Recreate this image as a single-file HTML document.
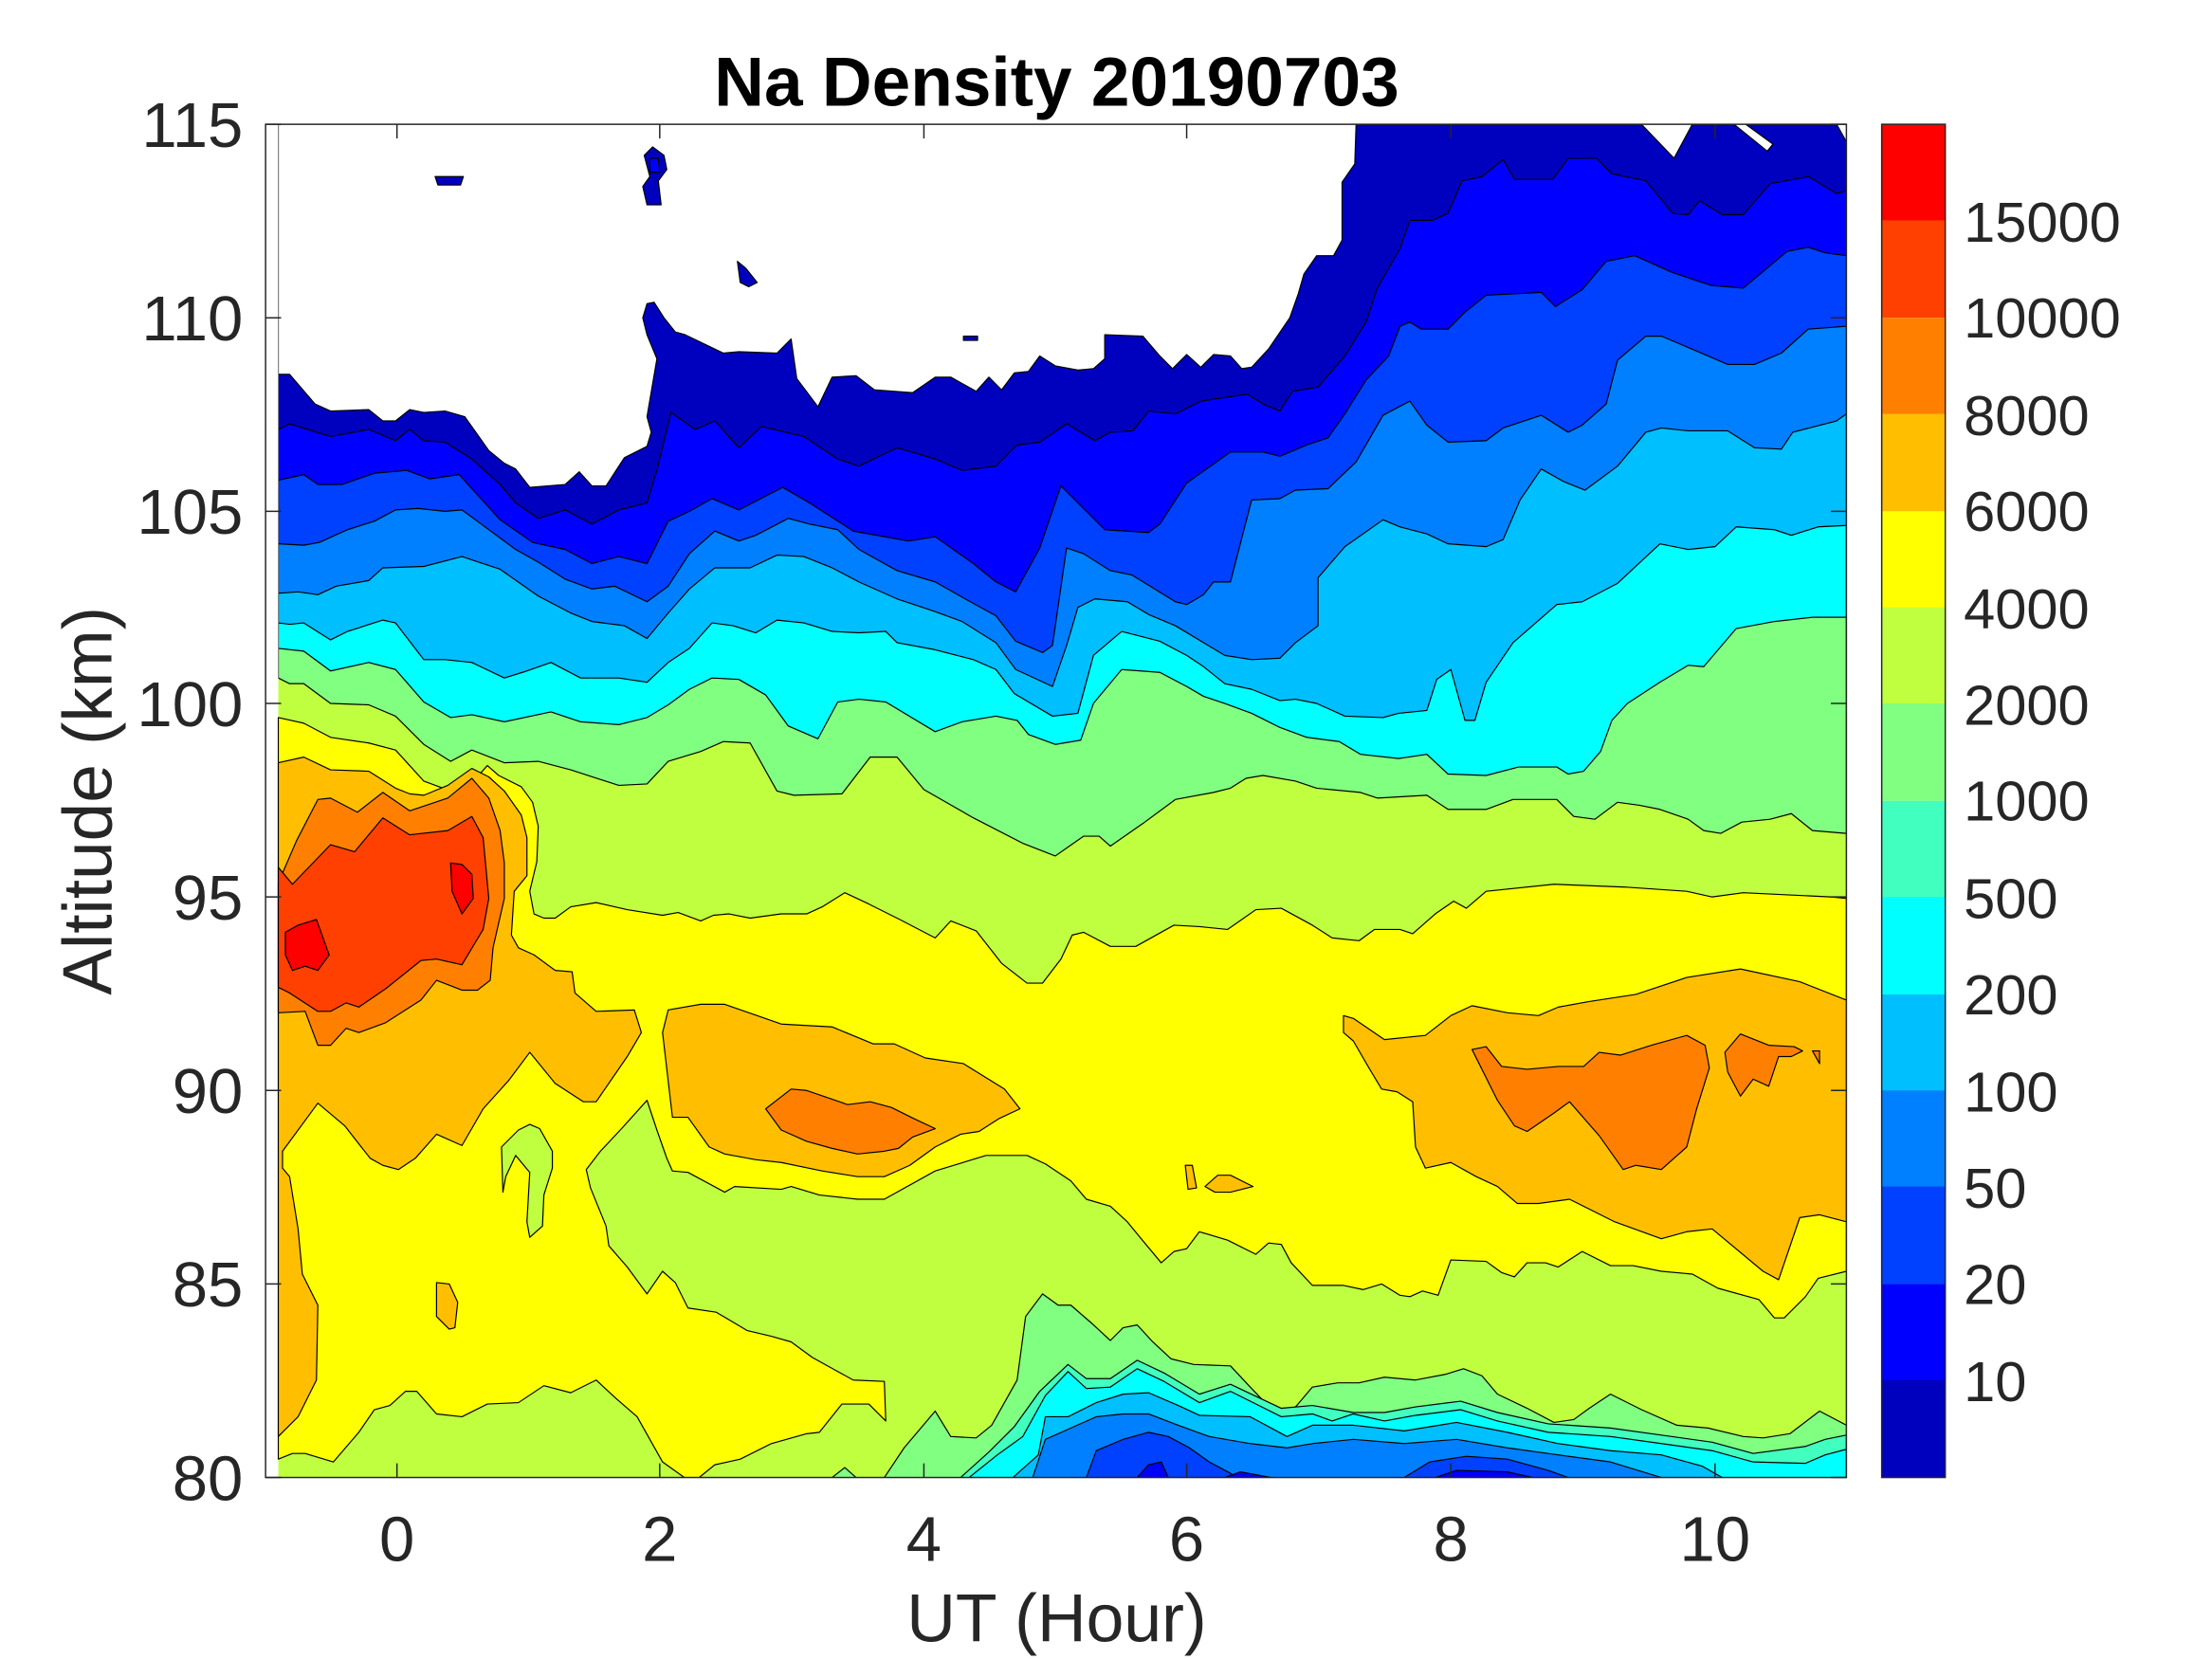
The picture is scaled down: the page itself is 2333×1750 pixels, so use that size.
<!DOCTYPE html>
<html><head><meta charset="utf-8"><style>
html,body{margin:0;padding:0;background:#fff;}
svg{display:block;}
text{font-family:"Liberation Sans",Arial,sans-serif;fill:#262626;}
</style></head><body>
<svg width="2333" height="1750" viewBox="0 0 1565.8 1174.5" preserveAspectRatio="none" xmlns="http://www.w3.org/2000/svg">
<defs><clipPath id="c"><rect x="188" y="88" width="1119" height="958"/></clipPath></defs>
<g clip-path="url(#c)" stroke="#000" stroke-width="0.8" stroke-linejoin="round">
<rect x="188" y="88" width="1119" height="958" fill="#BFFF40" stroke="none"/>
<!-- upper bands -->
<polygon fill="#80FF80" points="197,88 197,480 205,484 215,484 234,498 261,499 280,507 300,527 319,539 334,531 357,540 381,539 404,545 438,556 458,555 473,539 496,532 512,525 531,526 550,560 562,563 596,562 616,536 635,536 654,559 689,579 724,597 747,606 767,592 778,592 786,599 809,583 832,566 859,561 871,558 882,551 894,549 917,553 932,558 963,561 975,565 1010,563 1025,573 1052,573 1071,566 1102,566 1114,578 1129,580 1145,568 1160,570 1175,573 1195,580 1206,588 1218,590 1233,582 1253,580 1268,576 1283,588 1307,590 1307,88"/>
<polygon fill="#00FFFF" points="197,88 197,459 215,461 234,475 261,469 280,474 300,497 319,508 334,506 357,511 390,504 411,511 438,513 458,508 473,499 488,488 504,480 523,481 542,492 558,514 579,523 593,497 608,495 627,497 662,518 681,511 705,507 720,510 728,520 747,527 765,524 774,498 794,474 821,476 840,486 852,493 867,498 886,505 906,515 925,522 948,525 963,534 990,537 1010,534 1025,548 1052,549 1075,543 1102,543 1110,548 1121,546 1133,532 1141,510 1152,498 1175,483 1195,471 1206,472 1229,445 1256,440 1283,437 1307,437 1307,88"/>
<polygon fill="#00BFFF" points="197,88 197,441 205,442 215,441 234,453 246,447 271,439 280,441 300,467 315,467 334,469 357,480 373,475 390,469 411,480 438,480 458,483 473,469 488,459 504,441 519,443 535,448 550,439 569,441 589,447 608,448 627,447 635,455 662,460 689,467 705,474 718,491 745,507 763,505 774,464 794,447 821,454 840,464 852,472 867,484 886,488 906,496 917,495 932,498 952,507 979,508 990,505 1010,503 1017,481 1027,474 1037,510 1044,510 1052,483 1071,455 1102,428 1120,426 1145,413 1175,385 1195,389 1214,387 1229,373 1256,375 1268,379 1287,373 1307,372 1307,88"/>
<polygon fill="#0080FF" points="197,88 197,420 211,419 225,421 238,415 261,411 271,402 300,401 327,394 354,403 381,422 404,434 419,440 442,443 458,452 473,434 488,417 506,402 531,402 550,393 569,394 589,402 608,412 635,424 662,433 681,440 705,455 719,474 745,486 755,457 763,430 775,424 798,426 813,435 832,443 852,455 867,464 886,467 906,466 917,455 933,443 933,409 952,387 979,368 991,373 1010,378 1025,385 1052,387 1064,382 1076,354 1091,332 1107,341 1122,347 1145,330 1165,306 1176,303 1195,305 1223,305 1242,317 1261,318 1269,306 1300,298 1307,293 1307,88"/>
<polygon fill="#0040FF" points="197,88 197,385 215,386 226,384 246,375 265,369 280,361 296,360 315,362 327,361 346,375 365,389 381,398 400,410 419,417 435,415 458,426 473,415 488,392 506,376 523,383 535,379 558,367 573,371 593,375 608,389 635,404 662,412 685,425 705,436 719,454 738,462 745,457 755,388 767,392 786,404 801,407 832,426 840,428 852,421 859,412 871,412 886,354 906,353 917,347 940,346 960,327 979,294 998,284 1010,301 1025,313 1052,312 1064,303 1091,294 1110,306 1120,301 1137,286 1145,255 1165,238 1176,238 1195,246 1223,258 1242,258 1261,250 1280,233 1307,231 1307,88"/>
<polygon fill="#0000FF" points="197,88 197,340 215,336 225,343 242,343 265,335 288,333 304,339 325,336 354,368 377,384 400,389 419,399 438,394 458,399 473,369 488,362 504,353 523,361 554,345 573,356 604,376 643,383 662,380 689,399 705,412 719,419 736,388 751,344 782,375 813,377 821,371 840,342 871,320 894,320 906,323 925,315 940,310 952,293 967,269 983,252 991,231 998,228 1006,233 1025,233 1037,221 1052,209 1091,207 1101,217 1120,205 1137,185 1157,181 1184,193 1211,202 1234,204 1265,178 1280,175 1292,179 1307,181 1307,88"/>
<polygon fill="#0000BF" points="197,88 197,304 205,300 234,309 261,304 280,312 290,304 300,312 315,313 334,325 354,343 365,356 381,367 400,361 419,371 438,361 458,356 465,333 475,292 492,304 506,298 523,317 539,302 569,309 593,325 608,330 635,317 662,325 681,333 705,330 720,315 736,313 755,300 775,312 786,306 802,305 813,291 832,293 850,284 883,279 894,286 906,291 915,277 933,274 952,252 967,228 975,204 991,176 998,156 1014,156 1025,151 1035,128 1049,125 1064,113 1072,127 1099,127 1110,112 1130,112 1141,123 1165,128 1184,151 1195,152 1203,142 1219,152 1234,152 1253,130 1280,125 1300,137 1307,135 1307,88"/>
<!-- white (no data) -->
<polygon fill="#fff" points="197,86 197,265 205,265 223,286 234,291 261,290 271,298 280,298 290,290 300,292 315,291 329,295 346,319 357,328 365,332 375,345 400,343 410,334 419,344 429,344 442,324 458,316 461,306 458,295 465,254 458,237 455,225 458,215 463,214 470,225 478,235 485,237 512,250 523,249 550,250 560,240 564,268 579,288 589,267 606,266 619,276 646,278 662,267 673,267 691,277 700,267 709,276 718,264 728,263 736,252 747,259 763,262 774,261 782,254 782,237 809,238 821,252 830,261 840,251 850,260 859,251 871,252 879,261 886,260 898,247 913,225 919,208 923,194 932,181 944,181 950,170 950,129 959,116 960,86"/>
<polygon fill="#fff" points="1160,86 1185,112 1199,86"/>
<polygon fill="#fff" points="1225,86 1251,107 1255,102 1233,86"/>
<polygon fill="#fff" points="1299,86 1309,104 1309,86"/>
<rect x="186" y="86" width="11" height="962" fill="#fff" stroke="none"/>
<polygon fill="#0000BF" points="456,110 462,104 470,110 472,120 466,128 468,145 458,145 455,132 460,125"/>
<polygon fill="#0000FF" points="460,112 466,112 467,122 460,122"/>
<polygon fill="#0000BF" points="308,125 328,125 326,131 310,131"/>
<polygon fill="#0000BF" points="522,185 528,190 536,200 530,203 524,200"/>
<polygon fill="#0000BF" points="682,238 692,238 692,241 682,241"/>
<!-- yellow -->
<polygon fill="#FFFF00" points="197,508 215,512 234,522 261,526 280,531 290,542 300,553 319,560 336,552 345,542 353,549 369,557 377,568 381,585 380,610 375,631 378,647 385,650 393,650 404,642 422,639 444,644 469,648 480,646 496,652 505,648 516,647 531,650 553,647 571,647 582,642 598,632 615,640 637,651 662,664 673,652 691,659 709,682 727,696 738,696 751,679 759,662 767,660 786,670 804,670 831,655 849,656 869,658 889,644 907,643 929,655 943,664 962,666 973,658 991,658 1000,661 1016,647 1029,638 1038,643 1052,631 1100,626 1150,628 1194,631 1212,635 1234,632 1296,635 1307,636 1307,900 1287,905 1278,918 1263,933 1256,933 1245,920 1216,912 1198,902 1176,900 1156,896 1140,896 1120,886 1103,897 1094,894 1081,894 1072,904 1063,901 1052,893 1027,892 1018,917 1007,914 998,918 991,917 978,909 965,913 951,910 929,910 914,894 907,881 898,880 889,888 869,878 849,872 840,884 831,886 822,894 807,876 798,865 786,854 769,849 758,836 740,824 727,818 698,818 662,829 626,849 607,849 580,846 560,840 553,842 520,840 513,844 487,830 476,829 472,820 465,800 458,779 440,799 425,815 415,828 418,841 429,868 431,882 444,897 458,916 469,900 478,908 487,926 507,929 529,942 546,946 560,950 575,961 593,971 604,977 626,978 627,1006 615,994 596,994 580,1014 571,1015 546,1022 524,1033 506,1037 490,1050 469,1035 451,1003 436,990 422,977 404,986 385,981 367,993 345,994 327,1003 309,1001 295,985 287,985 276,995 265,998 254,1014 236,1035 216,1029 207,1029 197,1033"/>
<polygon fill="#BFFF40" points="355,812 367,800 375,796 382,799 391,815 391,827 385,846 384,868 375,876 373,865 375,830 365,818 358,833 356,844"/>
<!-- oranges -->
<polygon fill="#FFBF00" points="197,540 215,536 234,545 261,546 280,558 290,562 300,563 317,556 334,544 346,550 357,560 369,577 373,593 373,620 364,631 362,662 367,671 378,676 393,687 405,688 407,703 422,716 449,715 454,731 444,748 422,780 413,780 393,767 375,745 360,765 342,785 327,811 309,803 294,820 282,828 271,825 262,820 244,797 225,781 200,815 200,827 205,833 211,870 214,902 225,924 224,977 211,1003 197,1017"/>
<polygon fill="#FFBF00" points="309,908 318,909 324,922 322,940 318,941 309,932"/>
<polygon fill="#FFBF00" points="473,715 496,711 513,711 553,725 589,727 618,739 633,739 655,749 682,753 711,771 722,785 707,792 693,801 680,803 662,812 644,825 626,833 607,833 582,829 553,823 535,821 513,817 502,812 487,791 476,791 469,731"/>
<polygon fill="#FFBF00" points="951,719 958,721 980,736 1009,733 1027,719 1042,712 1067,717 1089,719 1103,713 1125,709 1158,704 1194,692 1232,686 1274,695 1307,708 1307,865 1288,860 1274,862 1259,906 1248,900 1212,870 1194,872 1176,877 1143,865 1111,849 1089,852 1074,852 1060,840 1045,833 1027,823 1009,827 1002,812 1000,780 989,773 978,771 969,756 958,737 951,731"/>
<polygon fill="#FFBF00" points="839,825 844,825 847,841 841,842"/>
<polygon fill="#FFBF00" points="853,840 862,832 871,832 887,840 871,844 860,844"/>
<polygon fill="#FF8000" points="197,625 210,595 225,566 234,565 253,575 271,561 290,574 317,565 334,551 346,565 354,588 357,611 357,636 349,671 347,694 338,701 327,701 309,694 298,708 273,724 254,731 245,728 234,740 225,740 216,716 197,717"/>
<polygon fill="#FF8000" points="542,785 560,771 571,772 600,782 616,780 631,784 647,792 662,799 646,805 636,813 626,815 607,817 589,813 571,808 553,800"/>
<polygon fill="#FF8000" points="1042,743 1052,741 1063,755 1081,757 1103,755 1121,755 1132,745 1147,747 1169,740 1194,733 1207,740 1210,756 1201,785 1194,812 1176,828 1158,825 1149,828 1132,804 1111,780 1100,788 1081,801 1072,797 1060,779 1049,757"/>
<polygon fill="#FF8000" points="1221,745 1232,732 1252,740 1270,741 1276,744 1268,748 1259,748 1252,769 1241,764 1232,776 1223,759"/>
<polygon fill="#FF8000" points="1283,744 1288,744 1288,753"/>
<polygon fill="#FF4000" points="197,614 207,626 234,598 251,603 271,579 290,591 317,588 334,578 342,593 346,636 342,658 327,683 309,679 298,680 273,700 254,713 245,710 234,716 225,716 205,703 197,699"/>
<polygon fill="#FF0000" points="202,660 211,655 224,651 233,676 225,687 216,684 207,687 202,676"/>
<polygon fill="#FF0000" points="319,611 327,612 334,619 335,636 327,647 320,631"/>
<!-- lower blues -->
<polygon fill="#80FF80" points="589,1046 598,1039 606,1046"/>
<polygon fill="#80FF80" points="626,1046 640,1025 662,999 673,1017 691,1018 702,1009 720,977 726,932 738,916 749,924 758,924 773,937 786,949 795,940 805,938 816,950 829,962 845,966 871,967 885,982 907,1005 918,995 929,982 947,979 962,979 980,975 1002,977 1023,973 1036,969 1049,974 1060,987 1081,997 1100,1007 1114,1005 1125,997 1140,987 1162,998 1187,1009 1209,1011 1234,1017 1248,1018 1267,1015 1288,999 1307,1009 1307,1046"/>
<polygon fill="#40FFBF" points="680,1046 700,1028 718,1010 736,985 756,966 769,976 786,976 805,963 824,972 849,987 871,980 907,997 929,995 958,1000 980,1000 1002,996 1034,992 1060,1000 1096,1008 1140,1011 1176,1016 1212,1021 1241,1029 1278,1024 1292,1019 1307,1016 1307,1046"/>
<polygon fill="#00FFFF" points="686,1046 706,1030 724,1017 740,988 756,971 769,983 786,982 805,969 824,978 849,993 871,985 907,1003 929,1001 943,1006 958,1001 980,1006 1002,1002 1034,998 1060,1006 1096,1014 1140,1017 1176,1022 1212,1027 1241,1035 1278,1036 1292,1030 1307,1026 1307,1046"/>
<polygon fill="#00BFFF" points="717,1046 735,1030 740,1003 756,1003 776,993 795,987 813,986 834,995 849,1002 885,1003 911,1017 929,1009 958,1009 994,1013 1031,1007 1067,1014 1103,1022 1140,1027 1176,1030 1205,1038 1219,1046"/>
<polygon fill="#0080FF" points="731,1046 740,1019 758,1011 776,1003 795,1001 813,1001 834,1009 856,1017 885,1022 911,1025 929,1022 958,1019 994,1022 1031,1019 1067,1025 1103,1030 1140,1035 1176,1046"/>
<polygon fill="#0040FF" points="769,1046 776,1027 795,1019 813,1014 827,1017 842,1025 856,1035 871,1043 875,1046"/>
<polygon fill="#0040FF" points="994,1046 1012,1035 1038,1031 1067,1033 1096,1041 1110,1046"/>
<polygon fill="#0000FF" points="805,1046 813,1037 822,1035 827,1046"/>
<polygon fill="#0000FF" points="867,1046 878,1042 900,1046"/>
<polygon fill="#0000FF" points="1016,1046 1031,1041 1067,1042 1085,1046"/>
</g>
<!-- axes -->
<g stroke="#262626" stroke-width="1" fill="none">
<rect x="188" y="88" width="1119" height="958"/>
<path d="M281,1046v-10M467,1046v-10M654,1046v-10M840,1046v-10M1027,1046v-10M1214,1046v-10M281,88v10M467,88v10M654,88v10M840,88v10M1027,88v10M1214,88v10
M188,88h11M188,225h11M188,362h11M188,498h11M188,635h11M188,772h11M188,909h11M188,1046h11
M1307,88h-11M1307,225h-11M1307,362h-11M1307,498h-11M1307,635h-11M1307,772h-11M1307,909h-11M1307,1046h-11"/>
</g>
<g font-size="45" text-anchor="end">
<text x="172" y="104">115</text><text x="172" y="241">110</text><text x="172" y="378">105</text><text x="172" y="514">100</text>
<text x="172" y="651">95</text><text x="172" y="788">90</text><text x="172" y="925">85</text><text x="172" y="1062">80</text>
</g>
<g font-size="45" text-anchor="middle">
<text x="281" y="1105">0</text><text x="467" y="1105">2</text><text x="654" y="1105">4</text><text x="840" y="1105">6</text><text x="1027" y="1105">8</text><text x="1214" y="1105">10</text>
<text x="748" y="1162" font-size="48">UT (Hour)</text>
<text x="748" y="75" font-size="49" font-weight="bold" style="fill:#000">Na Density 20190703</text>
<text transform="translate(79,567) rotate(-90)" font-size="49">Altitude (km)</text>
</g>
<!-- colorbar -->
<g stroke="none">
<rect x="1332" y="88" width="45" height="69" fill="#FF0000"/>
<rect x="1332" y="156" width="45" height="69" fill="#FF4000"/>
<rect x="1332" y="225" width="45" height="69" fill="#FF8000"/>
<rect x="1332" y="293" width="45" height="69" fill="#FFBF00"/>
<rect x="1332" y="362" width="45" height="69" fill="#FFFF00"/>
<rect x="1332" y="430" width="45" height="69" fill="#BFFF40"/>
<rect x="1332" y="498" width="45" height="69" fill="#80FF80"/>
<rect x="1332" y="567" width="45" height="69" fill="#40FFBF"/>
<rect x="1332" y="635" width="45" height="69" fill="#00FFFF"/>
<rect x="1332" y="704" width="45" height="69" fill="#00BFFF"/>
<rect x="1332" y="772" width="45" height="69" fill="#0080FF"/>
<rect x="1332" y="840" width="45" height="69" fill="#0040FF"/>
<rect x="1332" y="909" width="45" height="69" fill="#0000FF"/>
<rect x="1332" y="977" width="45" height="69" fill="#0000BF"/>
</g>
<rect x="1332" y="88" width="45" height="958" fill="none" stroke="#262626" stroke-width="1"/>
<g font-size="40">
<text x="1390" y="171">15000</text><text x="1390" y="239">10000</text><text x="1390" y="308">8000</text><text x="1390" y="376">6000</text>
<text x="1390" y="445">4000</text><text x="1390" y="513">2000</text><text x="1390" y="581">1000</text><text x="1390" y="650">500</text>
<text x="1390" y="718">200</text><text x="1390" y="787">100</text><text x="1390" y="855">50</text><text x="1390" y="923">20</text><text x="1390" y="992">10</text>
</g>
</svg>
</body></html>
